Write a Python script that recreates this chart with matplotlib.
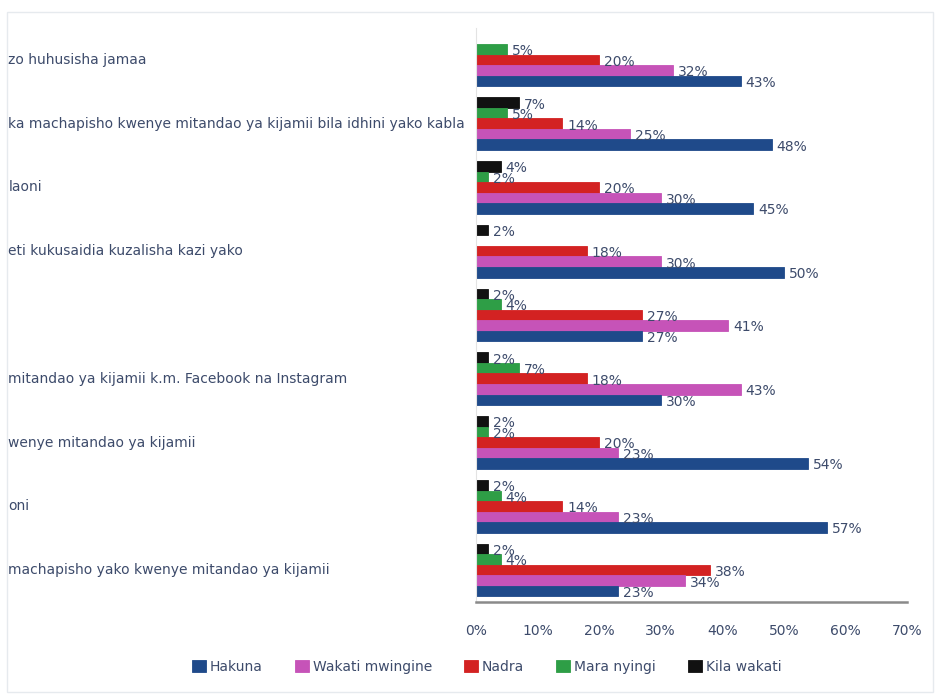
import matplotlib.pyplot as plt
import matplotlib.transforms as mtransforms
from matplotlib.patches import Rectangle
import numpy as np

categories = [
    "zo huhusisha jamaa",
    "ka machapisho kwenye mitandao ya kijamii bila idhini yako kabla",
    "laoni",
    "eti kukusaidia kuzalisha kazi yako",
    "",
    "mitandao ya kijamii k.m. Facebook na Instagram",
    "wenye mitandao ya kijamii",
    "oni",
    "machapisho yako kwenye mitandao ya kijamii",
]

series_names = ["Kila wakati", "Mara nyingi", "Nadra", "Wakati mwingine", "Hakuna"]
kila_wakati = [None, 7, 4, 2, 2, 2, 2, 2, 2]
mara_nyingi = [5, 5, 2, None, 4, 7, 2, 4, 4]
nadra = [20, 14, 20, 18, 27, 18, 20, 14, 38]
wakati_mwingine = [32, 25, 30, 30, 41, 43, 23, 23, 34]
hakuna = [43, 48, 45, 50, 27, 30, 54, 57, 23]

colors = ["#111111", "#2e9e46", "#d32222", "#c653b8", "#1f4a8a"]
legend_order = ["Hakuna", "Wakati mwingine", "Nadra", "Mara nyingi", "Kila wakati"]

fig = plt.figure(figsize=(9.36, 6.94), dpi=100)
fig.patches.append(Rectangle((0.007, 0.003), 0.99, 0.98, transform=fig.transFigure,
                             fill=False, edgecolor="#e6eaee", linewidth=1))
ax = fig.add_axes([0.5085, 0.1326, 0.4605, 0.8271])

data = [kila_wakati, mara_nyingi, nadra, wakati_mwingine, hakuna]
y = np.arange(len(categories))
h = 0.165
label_color = "#3d4b6b"
bars = {}
for i, (name, vals, col) in enumerate(zip(series_names, data, colors)):
    offs = (i - 2) * h
    for j, v in enumerate(vals):
        if v is None:
            continue
        b = ax.barh(y[j] + offs, v, height=h, color=col, edgecolor=col, linewidth=0.6)
        bars[name] = b
        ax.text(v + 0.8, y[j] + offs + 0.03, f"{v}%", va="center", ha="left",
                fontsize=10, color=label_color)

ax.set_xlim(0, 70)
ax.set_ylim(len(categories) - 0.5, -0.5)
ax.set_xticks(np.arange(0, 71, 10))
ax.set_xticklabels([f"{t}%" for t in range(0, 71, 10)], fontsize=10, color=label_color)
ax.tick_params(axis="x", length=0, pad=16)
ax.set_yticks([])
for s in ["top", "right"]:
    ax.spines[s].set_visible(False)
ax.spines["left"].set_color("#e3e3e3")
ax.spines["bottom"].set_color("#8a8a8a")
ax.spines["bottom"].set_linewidth(1.8)

trans = mtransforms.blended_transform_factory(fig.transFigure, ax.transData)
for j, cat in enumerate(categories):
    ax.text(0.009, y[j], cat, transform=trans, ha="left", va="center",
            fontsize=10, color=label_color, clip_on=False)

handles = [bars[n] for n in legend_order]
fig.legend(handles, legend_order, loc="center", bbox_to_anchor=(0.52, 0.039), ncol=5,
           frameon=False, fontsize=10, handlelength=1.0, handleheight=1.0,
           handletextpad=0.3, columnspacing=2.3, labelcolor=label_color)

fig.savefig("out.png", dpi=100)
